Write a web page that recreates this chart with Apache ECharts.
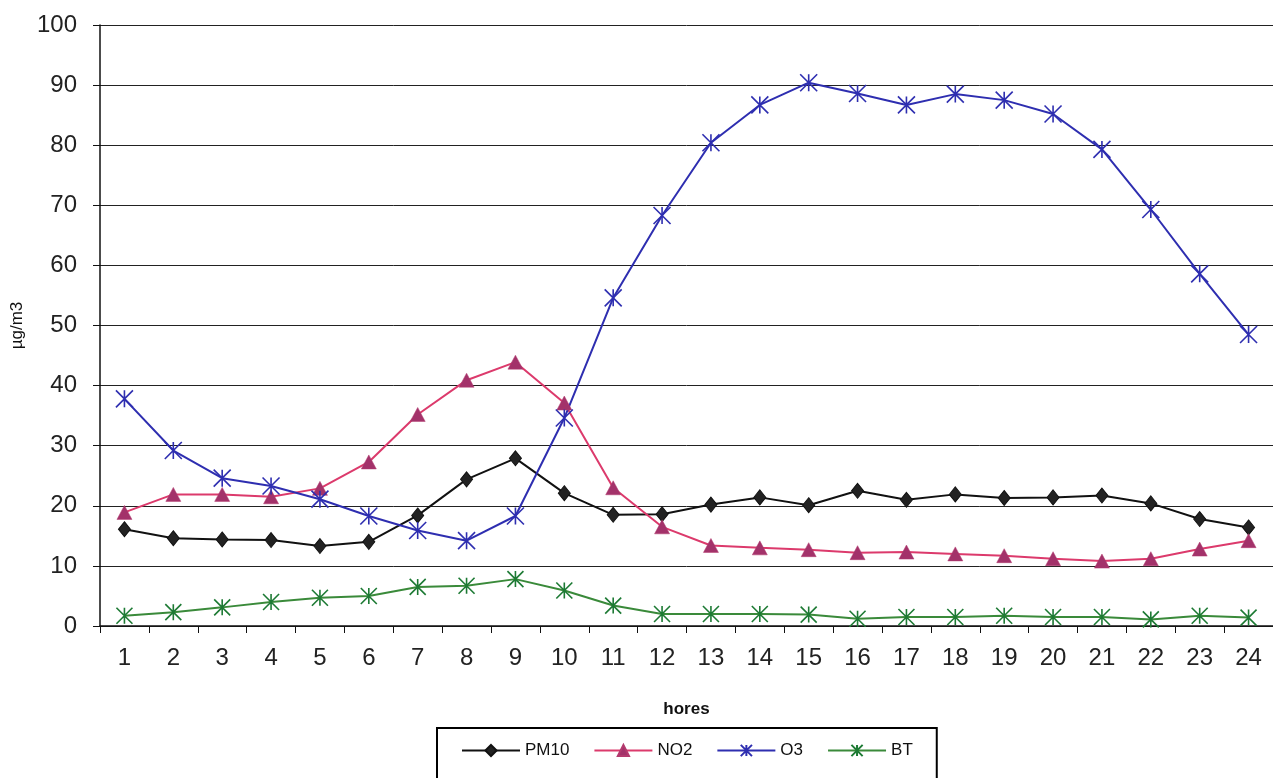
<!DOCTYPE html>
<html>
<head>
<meta charset="utf-8">
<script src="https://cdn.jsdelivr.net/npm/echarts@6/dist/echarts.min.js"></script>
<style>
html,body{margin:0;padding:0;background:#fff;}
#chart{width:1273px;height:778px;}
</style>
</head>
<body>
<div id="chart"></div>
<script>
const hours = ['1','2','3','4','5','6','7','8','9','10','11','12','13','14','15','16','17','18','19','20','21','22','23','24'];
const pm10 = [16.1,14.6,14.4,14.3,13.3,14.0,18.4,24.4,27.9,22.1,18.5,18.6,20.2,21.4,20.1,22.5,21.0,21.9,21.3,21.4,21.7,20.4,17.8,16.4];
const no2 = [18.9,21.9,21.9,21.5,22.9,27.3,35.2,40.9,43.9,37.1,23.0,16.5,13.4,13.0,12.7,12.2,12.3,12.0,11.7,11.2,10.8,11.2,12.8,14.2];
const o3 = [37.8,29.2,24.6,23.3,21.1,18.3,15.9,14.2,18.3,34.6,54.6,68.3,80.4,86.7,90.4,88.6,86.7,88.5,87.5,85.2,79.3,69.3,58.6,48.5];
const bt = [1.7,2.3,3.1,4.0,4.7,5.0,6.5,6.7,7.8,5.9,3.4,2.0,2.0,2.0,1.9,1.2,1.5,1.5,1.7,1.5,1.5,1.1,1.7,1.4];
const yTicks = [0,10,20,30,40,50,60,70,80,90,100];

const STAR = 'path://M0,0L20,20M20,0L0,20M10,0L10,20';
const font = 'Liberation Sans, Arial, sans-serif';

const chart = echarts.init(document.getElementById('chart'));
chart.setOption({
  animation: false,
  backgroundColor: '#fff',
  grid: {left: 100, top: 25, bottom: 152, right: -7, containLabel: false},
  legend: {
    left: 437, top: 728,
    padding: [14, 24, 30, 24],
    borderColor: '#000', borderWidth: 2,
    itemWidth: 58, itemHeight: 14, itemGap: 24,
    textStyle: {fontFamily: font, fontSize: 17, color: '#111'},
    data: ['PM10','NO2','O3','BT']
  },
  xAxis: {
    type: 'category', data: hours, boundaryGap: true,
    name: 'hores', nameLocation: 'middle', nameGap: 75,
    nameTextStyle: {fontFamily: font, fontSize: 17, fontWeight: 'bold', color: '#111'},
    axisLine: {lineStyle: {color: '#111', width: 1.5}},
    axisTick: {show: true, length: 7, inside: false, lineStyle: {color: '#111'}},
    axisLabel: {fontFamily: font, fontSize: 24, color: '#222', margin: 20},
    splitLine: {show: false}
  },
  yAxis: {
    type: 'value', min: 0, max: 100, interval: 10,
    name: 'µg/m3', nameLocation: 'middle', nameGap: 70, nameRotate: 90,
    nameTextStyle: {fontFamily: font, fontSize: 17, color: '#111'},
    axisLine: {show: true, lineStyle: {color: '#111', width: 1.5}},
    axisTick: {show: true, length: 7, lineStyle: {color: '#111'}},
    axisLabel: {fontFamily: font, fontSize: 24, color: '#222', margin: 23,
      formatter: v => yTicks.includes(v) ? String(v) : ''},
    splitLine: {show: true, lineStyle: {color: '#222', width: 1}}
  },
  series: [
    {name: 'PM10', type: 'line', data: pm10, symbol: 'diamond', symbolSize: [12, 15],
     lineStyle: {color: '#111', width: 2}, itemStyle: {color: '#222', borderColor: '#111', borderWidth: 1}},
    {name: 'NO2', type: 'line', data: no2, symbol: 'triangle', symbolSize: [15, 14],
     lineStyle: {color: '#dc3a6c', width: 2}, itemStyle: {color: '#a3326a', borderColor: '#b33a6e', borderWidth: 0.5}},
    {name: 'O3', type: 'line', data: o3, symbol: STAR, symbolSize: 17,
     lineStyle: {color: '#2e2eb0', width: 2}, itemStyle: {color: 'rgba(0,0,0,0)', borderColor: '#2e2eb0', borderWidth: 1.6}},
    {name: 'BT', type: 'line', data: bt, symbol: STAR, symbolSize: 16,
     lineStyle: {color: '#3a8a3a', width: 2}, itemStyle: {color: 'rgba(0,0,0,0)', borderColor: '#1d7a34', borderWidth: 1.6}}
  ]
});
</script>
</body>
</html>
